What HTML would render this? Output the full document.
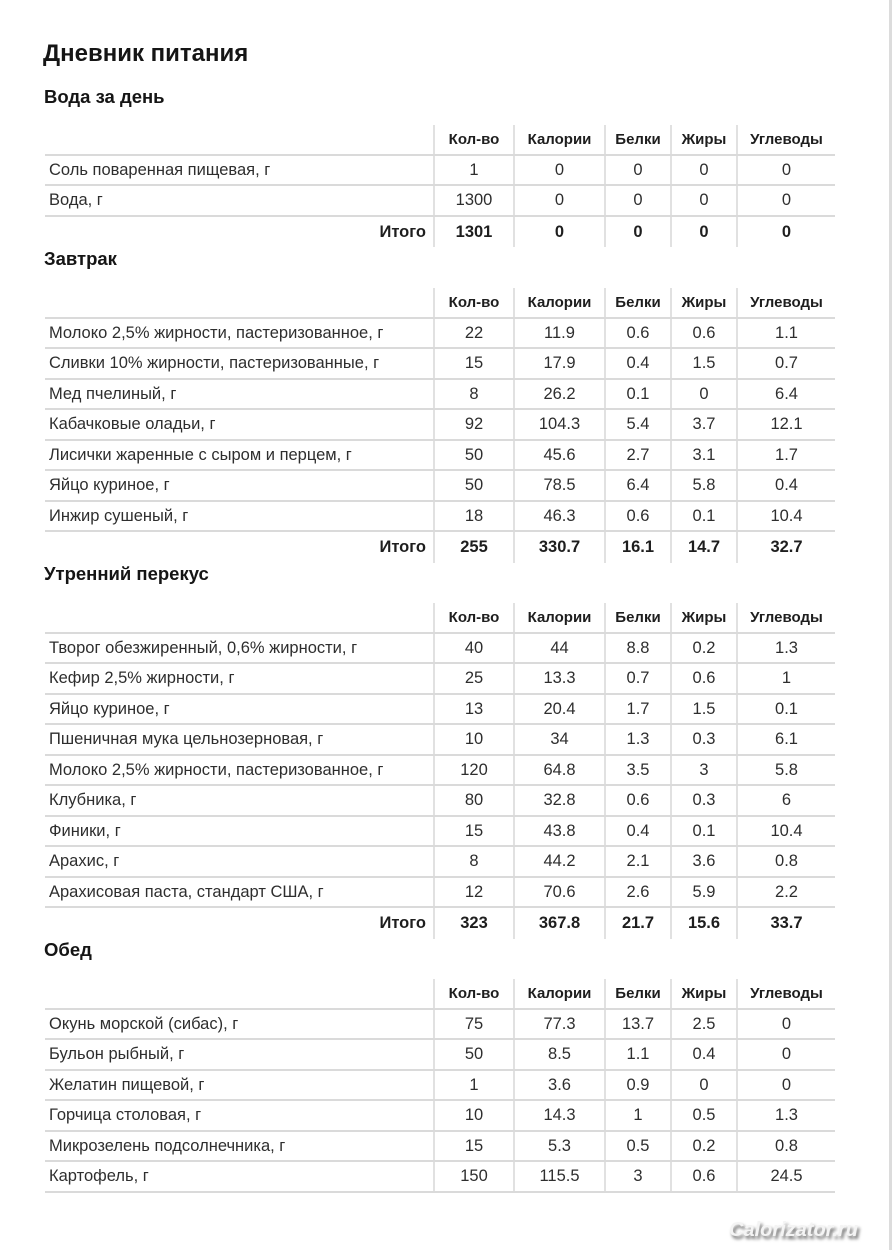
<!DOCTYPE html>
<html><head><meta charset="utf-8">
<style>
html,body{margin:0;padding:0;background:#fff;}
body{width:892px;height:1250px;position:relative;overflow:hidden;font-family:"Liberation Sans","DejaVu Sans",sans-serif;color:#2a2a2a;}
.strip{position:absolute;left:889px;top:0;width:3px;height:1250px;background:#dcdcdc;}
.title{position:absolute;left:43px;top:42px;font-size:24px;line-height:1;font-weight:bold;color:#151515;white-space:nowrap;}
.hd2{position:absolute;left:44px;font-size:18.5px;line-height:1;font-weight:bold;color:#151515;white-space:nowrap;}
.tbl{position:absolute;left:45px;width:790px;}
.r{display:flex;height:30.5px;box-sizing:border-box;border-bottom:2px solid #dadada;}
.r.it{border-bottom:none;}
.c{box-sizing:border-box;border-left:2px solid #e1e1e1;text-align:center;font-size:16.5px;line-height:27.5px;padding-top:1px;white-space:nowrap;color:#2e2e2e;}
.c.n{border-left:none;text-align:left;padding-left:4px;width:388px;}
.w1{width:80px}.w2{width:91px}.w3{width:66px}.w4{width:66px}.w5{width:99px}
.h .c{font-weight:bold;font-size:15px;padding-top:2px;line-height:26.5px;color:#1e1e1e;}
.it .c{font-weight:bold;padding-top:2px;line-height:26.5px;color:#1e1e1e;}
.it .c.n{text-align:right;padding-right:7px;padding-left:0;}
.wm{position:absolute;left:729px;top:1219px;font-size:20px;line-height:22px;font-weight:bold;font-style:italic;color:#f4f4f4;text-shadow:2px 3px 3px #6a6a6a;white-space:nowrap;}
</style></head><body>
<div class="strip"></div>
<div class="title">Дневник питания</div>

<div class="hd2" style="top:88px">Вода за день</div>
<div class="tbl" style="top:125px">
<div class="r h"><div class="c n"></div><div class="c w1">Кол-во</div><div class="c w2">Калории</div><div class="c w3">Белки</div><div class="c w4">Жиры</div><div class="c w5">Углеводы</div></div>
<div class="r"><div class="c n">Соль поваренная пищевая, г</div><div class="c w1">1</div><div class="c w2">0</div><div class="c w3">0</div><div class="c w4">0</div><div class="c w5">0</div></div>
<div class="r"><div class="c n">Вода, г</div><div class="c w1">1300</div><div class="c w2">0</div><div class="c w3">0</div><div class="c w4">0</div><div class="c w5">0</div></div>
<div class="r it"><div class="c n">Итого</div><div class="c w1">1301</div><div class="c w2">0</div><div class="c w3">0</div><div class="c w4">0</div><div class="c w5">0</div></div>
</div>

<div class="hd2" style="top:250px">Завтрак</div>
<div class="tbl" style="top:288px">
<div class="r h"><div class="c n"></div><div class="c w1">Кол-во</div><div class="c w2">Калории</div><div class="c w3">Белки</div><div class="c w4">Жиры</div><div class="c w5">Углеводы</div></div>
<div class="r"><div class="c n">Молоко 2,5% жирности, пастеризованное, г</div><div class="c w1">22</div><div class="c w2">11.9</div><div class="c w3">0.6</div><div class="c w4">0.6</div><div class="c w5">1.1</div></div>
<div class="r"><div class="c n">Сливки 10% жирности, пастеризованные, г</div><div class="c w1">15</div><div class="c w2">17.9</div><div class="c w3">0.4</div><div class="c w4">1.5</div><div class="c w5">0.7</div></div>
<div class="r"><div class="c n">Мед пчелиный, г</div><div class="c w1">8</div><div class="c w2">26.2</div><div class="c w3">0.1</div><div class="c w4">0</div><div class="c w5">6.4</div></div>
<div class="r"><div class="c n">Кабачковые оладьи, г</div><div class="c w1">92</div><div class="c w2">104.3</div><div class="c w3">5.4</div><div class="c w4">3.7</div><div class="c w5">12.1</div></div>
<div class="r"><div class="c n">Лисички жаренные с сыром и перцем, г</div><div class="c w1">50</div><div class="c w2">45.6</div><div class="c w3">2.7</div><div class="c w4">3.1</div><div class="c w5">1.7</div></div>
<div class="r"><div class="c n">Яйцо куриное, г</div><div class="c w1">50</div><div class="c w2">78.5</div><div class="c w3">6.4</div><div class="c w4">5.8</div><div class="c w5">0.4</div></div>
<div class="r"><div class="c n">Инжир сушеный, г</div><div class="c w1">18</div><div class="c w2">46.3</div><div class="c w3">0.6</div><div class="c w4">0.1</div><div class="c w5">10.4</div></div>
<div class="r it"><div class="c n">Итого</div><div class="c w1">255</div><div class="c w2">330.7</div><div class="c w3">16.1</div><div class="c w4">14.7</div><div class="c w5">32.7</div></div>
</div>

<div class="hd2" style="top:565px">Утренний перекус</div>
<div class="tbl" style="top:603px">
<div class="r h"><div class="c n"></div><div class="c w1">Кол-во</div><div class="c w2">Калории</div><div class="c w3">Белки</div><div class="c w4">Жиры</div><div class="c w5">Углеводы</div></div>
<div class="r"><div class="c n">Творог обезжиренный, 0,6% жирности, г</div><div class="c w1">40</div><div class="c w2">44</div><div class="c w3">8.8</div><div class="c w4">0.2</div><div class="c w5">1.3</div></div>
<div class="r"><div class="c n">Кефир 2,5% жирности, г</div><div class="c w1">25</div><div class="c w2">13.3</div><div class="c w3">0.7</div><div class="c w4">0.6</div><div class="c w5">1</div></div>
<div class="r"><div class="c n">Яйцо куриное, г</div><div class="c w1">13</div><div class="c w2">20.4</div><div class="c w3">1.7</div><div class="c w4">1.5</div><div class="c w5">0.1</div></div>
<div class="r"><div class="c n">Пшеничная мука цельнозерновая, г</div><div class="c w1">10</div><div class="c w2">34</div><div class="c w3">1.3</div><div class="c w4">0.3</div><div class="c w5">6.1</div></div>
<div class="r"><div class="c n">Молоко 2,5% жирности, пастеризованное, г</div><div class="c w1">120</div><div class="c w2">64.8</div><div class="c w3">3.5</div><div class="c w4">3</div><div class="c w5">5.8</div></div>
<div class="r"><div class="c n">Клубника, г</div><div class="c w1">80</div><div class="c w2">32.8</div><div class="c w3">0.6</div><div class="c w4">0.3</div><div class="c w5">6</div></div>
<div class="r"><div class="c n">Финики, г</div><div class="c w1">15</div><div class="c w2">43.8</div><div class="c w3">0.4</div><div class="c w4">0.1</div><div class="c w5">10.4</div></div>
<div class="r"><div class="c n">Арахис, г</div><div class="c w1">8</div><div class="c w2">44.2</div><div class="c w3">2.1</div><div class="c w4">3.6</div><div class="c w5">0.8</div></div>
<div class="r"><div class="c n">Арахисовая паста, стандарт США, г</div><div class="c w1">12</div><div class="c w2">70.6</div><div class="c w3">2.6</div><div class="c w4">5.9</div><div class="c w5">2.2</div></div>
<div class="r it"><div class="c n">Итого</div><div class="c w1">323</div><div class="c w2">367.8</div><div class="c w3">21.7</div><div class="c w4">15.6</div><div class="c w5">33.7</div></div>
</div>

<div class="hd2" style="top:941px">Обед</div>
<div class="tbl" style="top:979px">
<div class="r h"><div class="c n"></div><div class="c w1">Кол-во</div><div class="c w2">Калории</div><div class="c w3">Белки</div><div class="c w4">Жиры</div><div class="c w5">Углеводы</div></div>
<div class="r"><div class="c n">Окунь морской (сибас), г</div><div class="c w1">75</div><div class="c w2">77.3</div><div class="c w3">13.7</div><div class="c w4">2.5</div><div class="c w5">0</div></div>
<div class="r"><div class="c n">Бульон рыбный, г</div><div class="c w1">50</div><div class="c w2">8.5</div><div class="c w3">1.1</div><div class="c w4">0.4</div><div class="c w5">0</div></div>
<div class="r"><div class="c n">Желатин пищевой, г</div><div class="c w1">1</div><div class="c w2">3.6</div><div class="c w3">0.9</div><div class="c w4">0</div><div class="c w5">0</div></div>
<div class="r"><div class="c n">Горчица столовая, г</div><div class="c w1">10</div><div class="c w2">14.3</div><div class="c w3">1</div><div class="c w4">0.5</div><div class="c w5">1.3</div></div>
<div class="r"><div class="c n">Микрозелень подсолнечника, г</div><div class="c w1">15</div><div class="c w2">5.3</div><div class="c w3">0.5</div><div class="c w4">0.2</div><div class="c w5">0.8</div></div>
<div class="r"><div class="c n">Картофель, г</div><div class="c w1">150</div><div class="c w2">115.5</div><div class="c w3">3</div><div class="c w4">0.6</div><div class="c w5">24.5</div></div>
</div>

<div class="wm">Calorizator.ru</div>
</body></html>
